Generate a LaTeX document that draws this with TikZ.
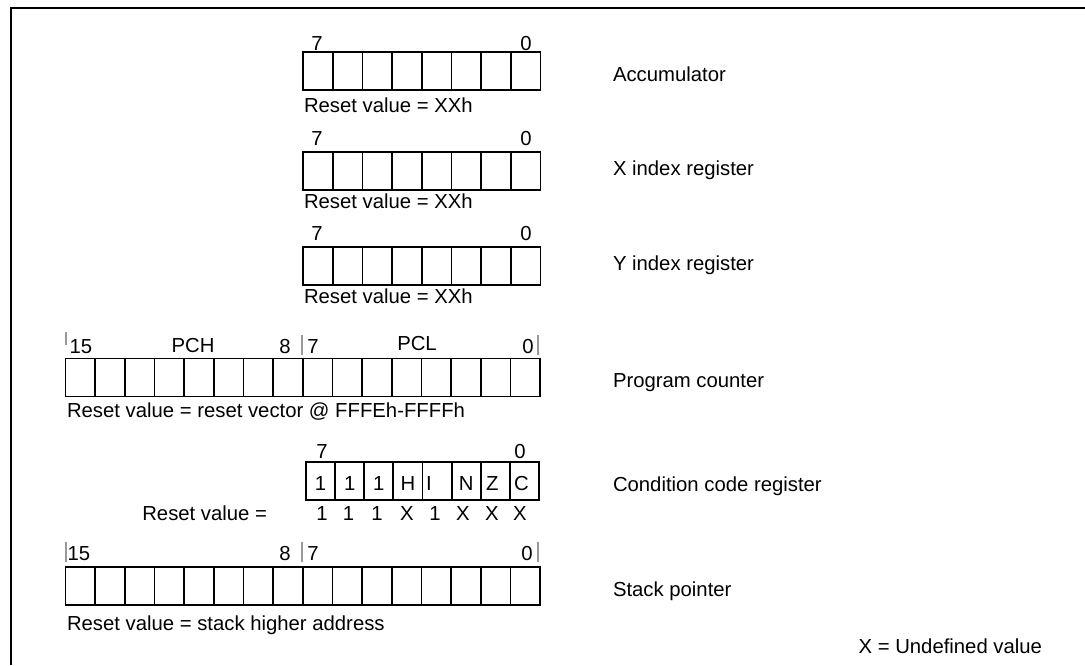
\documentclass[tikz,border=0pt]{standalone}
\usepackage{fontspec}
\setmainfont{Liberation Sans}
\usetikzlibrary{positioning}
\newcommand{\regfont}{\fontsize{20.3}{24}\selectfont}
\tikzset{
    regcell/.style = {rectangle, draw=black, line width=1.8pt, minimum width=29.66pt, minimum height=38pt, inner sep=0pt, outer sep=0pt},
    ccrcell/.style = {regcell, minimum width=29.12pt},
    mylabel/.style = {inner sep=0pt, outer sep=0pt, font=\regfont, text=black, anchor=base},
    mylabelw/.style = {mylabel, anchor=base west},
    mylabele/.style = {mylabel, anchor=base east},
    mytick/.style = {-, line width=1.4pt, gray!80},
    myframe/.style = {-, line width=1.8pt, black},
}
\begin{document}
\begin{tikzpicture}[x=1pt, y=-1pt]
\useasboundingbox (0,0) rectangle (1085,665);
%
\coordinate (fbl) at (11,665);
\coordinate (ftl) at (11,8);
\coordinate (ftr) at (1085,8);
\draw[myframe] (fbl) -- (ftl) -- (ftr);
%
% accumulator
\foreach \i in {0,...,7}
    \node[regcell] (acc\i) at ({303.2+29.66*(\i+0.5)}, 71) {};
\node[mylabel] at (317, 50) (acchi) {7};
\node[mylabel] at (526, 50) (acclo) {0};
\node[mylabelw] at (304, 112) (accrst) {Reset value = XXh};
\node[mylabelw] at (613, 81) (accname) {Accumulator};
%
% x index register
\foreach \i in {0,...,7}
    \node[regcell] (xr\i) at ({303.2+29.66*(\i+0.5)}, 171) {};
\node[mylabel] at (317, 145) (xrhi) {7};
\node[mylabel] at (526, 145) (xrlo) {0};
\node[mylabelw] at (304, 208) (xrrst) {Reset value = XXh};
\node[mylabelw] at (613, 175) (xrname) {X index register};
%
% y index register
\foreach \i in {0,...,7}
    \node[regcell] (yr\i) at ({303.2+29.66*(\i+0.5)}, 266) {};
\node[mylabel] at (317, 240) (yrhi) {7};
\node[mylabel] at (526, 240) (yrlo) {0};
\node[mylabelw] at (304, 303) (yrrst) {Reset value = XXh};
\node[mylabelw] at (613, 270) (yrname) {Y index register};
%
% program counter
\foreach \i in {0,...,15}
    \node[regcell] (pc\i) at ({65.5+29.66*(\i+0.5)}, 377.5) {};
\draw[mytick] (66,332) -- (66,345);
\draw[mytick] (302,335) -- (302,355);
\draw[mytick] (538,335) -- (538,355);
\node[mylabel] at (81, 353) (pchi) {15};
\node[mylabel] at (193, 352) (pch) {PCH};
\node[mylabel] at (285, 353) (pcmh) {8};
\node[mylabel] at (313, 353) (pcml) {7};
\node[mylabel] at (417, 350) (pcl) {PCL};
\node[mylabel] at (528, 353) (pclo) {0};
\node[mylabelw] at (67, 417) (pcrst) {Reset value = reset vector @ FFFEh-FFFFh};
\node[mylabelw] at (613, 387) (pcname) {Program counter};
%
% condition code register
\foreach \t/\dx [count=\i from 0] in {1/0,1/0,1/0,H/0,I/-8,N/0,Z/-3,C/-3} {
    \node[ccrcell] (cc\i) at ({306+29.12*(\i+0.5)}, 481) {};
    \node[mylabel] at ({306+29.12*(\i+0.5)+\dx}, 490) (ccbit\i) {\t};
}
\node[mylabel] at (322, 458) (cchi) {7};
\node[mylabel] at (520, 458) (cclo) {0};
\node[mylabele] at (267, 520) (ccrst) {Reset value =};
\foreach \v/\x [count=\i from 0] in {1/322,1/348.5,1/377,X/407,1/435,X/463,X/492,X/520}
    \node[mylabel] at (\x, 520) (ccval\i) {\v};
\node[mylabelw] at (613, 491) (ccname) {Condition code register};
%
% stack pointer
\foreach \i in {0,...,15}
    \node[regcell] (sp\i) at ({65.5+29.66*(\i+0.5)}, 586) {};
\draw[mytick] (66,542) -- (66,562);
\draw[mytick] (302,542) -- (302,562);
\draw[mytick] (538,542) -- (538,562);
\node[mylabel] at (79, 560) (sphi) {15};
\node[mylabel] at (285, 560) (spmh) {8};
\node[mylabel] at (313, 560) (spml) {7};
\node[mylabel] at (527, 560) (splo) {0};
\node[mylabelw] at (67, 630) (sprst) {Reset value = stack higher address};
\node[mylabelw] at (613, 596) (spname) {Stack pointer};
%
\node[mylabele] at (1042, 653) (undef) {X = Undefined value};
\end{tikzpicture}
\end{document}
